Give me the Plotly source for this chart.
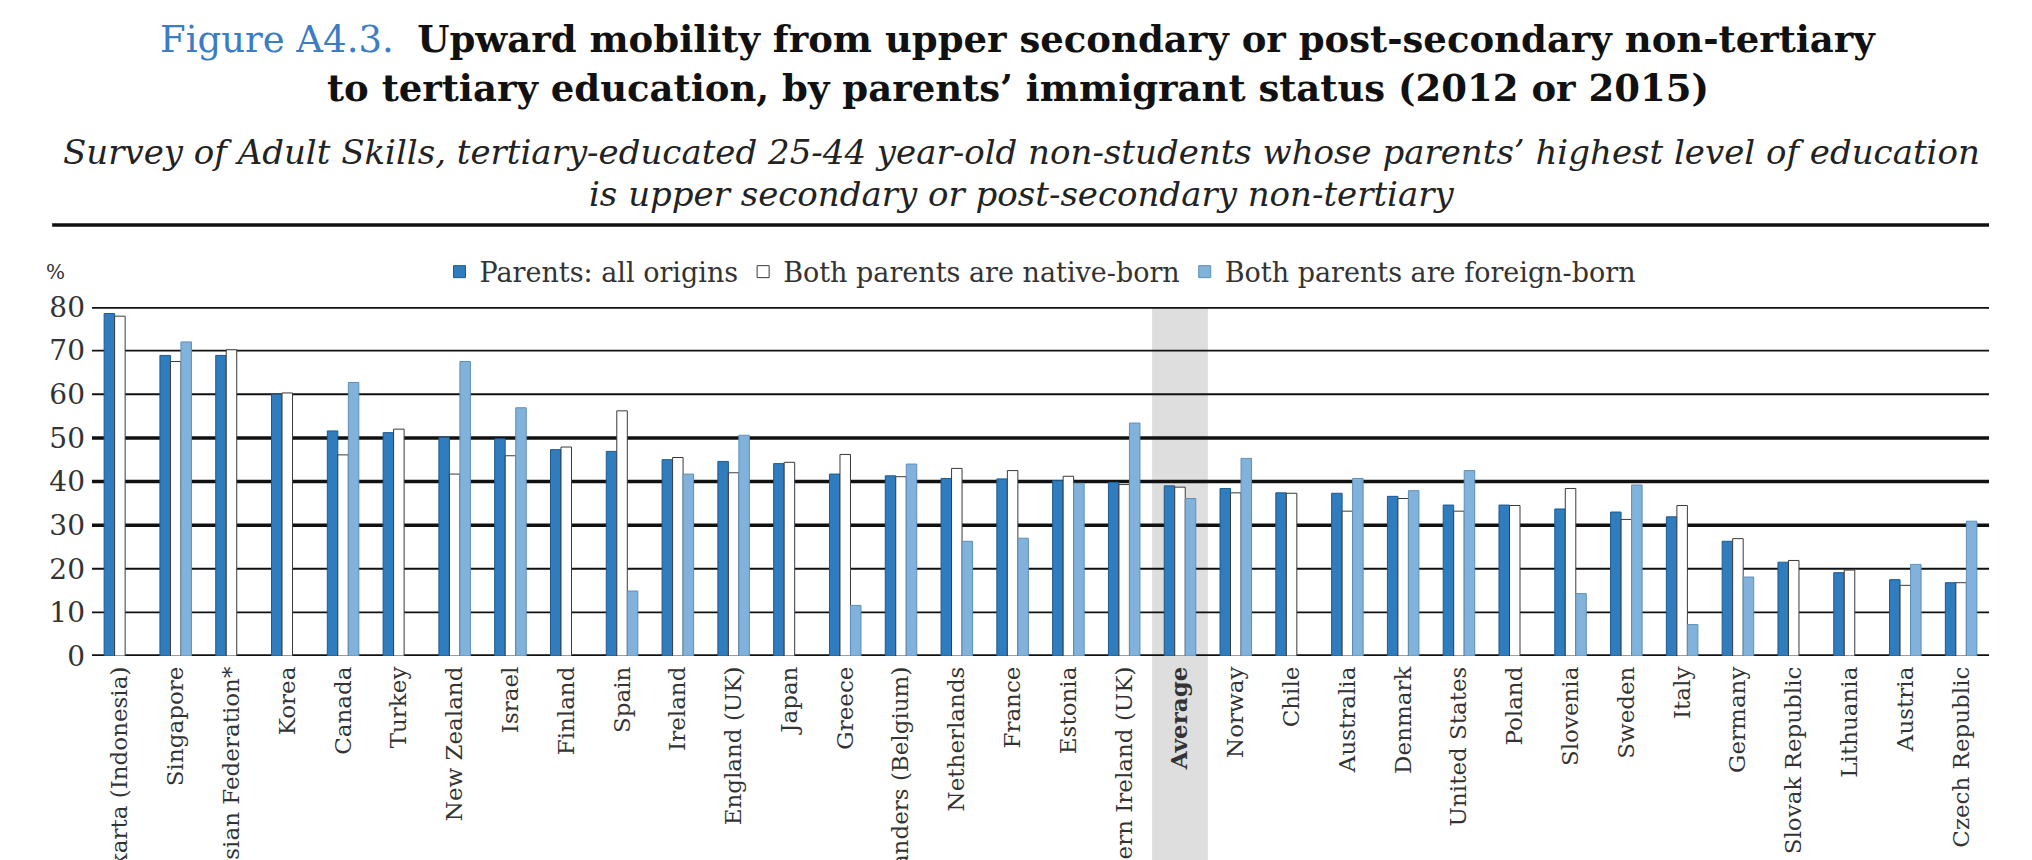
import plotly.graph_objects as go

categories = ["Jakarta (Indonesia)", "Singapore", "Russian Federation*", "Korea", "Canada", "Turkey",
              "New Zealand", "Israel", "Finland", "Spain", "Ireland", "England (UK)", "Japan", "Greece",
              "Flanders (Belgium)", "Netherlands", "France", "Estonia", "Northern Ireland (UK)", "Average",
              "Norway", "Chile", "Australia", "Denmark", "United States", "Poland", "Slovenia", "Sweden",
              "Italy", "Germany", "Slovak Republic", "Lithuania", "Austria", "Czech Republic"]

all_origins = [78.5, 68.9, 68.9, 60.0, 51.6, 51.2, 50.1, 49.8, 47.3, 46.9, 45.0, 44.6, 44.1, 41.7, 41.3,
               40.7, 40.6, 40.2, 39.8, 39.0, 38.4, 37.4, 37.3, 36.6, 34.6, 34.6, 33.7, 33.0, 31.9, 26.3,
               21.5, 19.1, 17.5, 16.8]
native_born = [77.9, 67.5, 70.2, 60.3, 46.1, 52.0, 41.7, 45.9, 47.9, 56.2, 45.5, 42.0, 44.4, 46.2, 41.1,
               43.0, 42.5, 41.2, 39.3, 38.7, 37.4, 37.3, 33.2, 36.1, 33.2, 34.5, 38.4, 31.3, 34.5, 26.9,
               21.9, 19.7, 16.2, 16.8]
foreign_born = [None, 72.0, None, None, 62.7, None, 67.5, 56.9, None, 14.9, 41.7, 50.6, None, 11.6, 44.0,
                26.3, 27.0, 39.6, 53.4, 36.1, 45.3, None, 40.7, 37.9, 42.5, None, 14.3, 39.2, 7.2, 18.1,
                None, None, 21.0, 30.9]

series_names = ["Parents: all origins", "Both parents are native-born", "Both parents are foreign-born"]
y_ticks = [0, 10, 20, 30, 40, 50, 60, 70, 80]
thick_grid = [0, 30, 40, 50, 80]

SERIF = "DejaVu Serif"
DARK = "#2f7cbf"
LIGHT = "#80b2db"

tick_text = ["<b>%s</b>" % c if c == "Average" else c for c in categories]

fig = go.Figure()
fig.add_trace(go.Bar(x=categories, y=all_origins, name=series_names[0],
                     marker=dict(color=DARK, line=dict(color="#1d5a8e", width=1))))
fig.add_trace(go.Bar(x=categories, y=native_born, name=series_names[1],
                     marker=dict(color="white", line=dict(color="#3a3a3a", width=1))))
fig.add_trace(go.Bar(x=categories, y=foreign_born, name=series_names[2],
                     marker=dict(color=LIGHT, line=dict(color="#5f8fb8", width=1))))

shapes = []
avg_i = categories.index("Average")
shapes.append(dict(type="rect", xref="x", yref="paper", x0=avg_i - 0.5, x1=avg_i + 0.5, y0=-0.7, y1=1.0,
                   fillcolor="#dedede", line=dict(width=0), layer="below"))
for v in y_ticks:
    w = 3.5 if v in thick_grid else 1.8
    shapes.append(dict(type="line", xref="paper", yref="y", x0=0, x1=1, y0=v, y1=v,
                       line=dict(color="#111111", width=w), layer="below"))
# separator under subtitle
shapes.append(dict(type="line", xref="paper", yref="paper", x0=-0.021, x1=1.0, y0=1.235, y1=1.235,
                   line=dict(color="#111111", width=3.5)))

annotations = [
    dict(text="<span style='color:#3b7cc4'>Figure A4.3.</span>  <b>Upward mobility from upper secondary or post-secondary non-tertiary</b>",
         xref="paper", yref="paper", x=0.488, y=1.768, showarrow=False, xanchor="center", yanchor="middle",
         font=dict(family=SERIF, size=37, color="#111111")),
    dict(text="<b>to tertiary education, by parents’ immigrant status (2012 or 2015)</b>",
         xref="paper", yref="paper", x=0.488, y=1.628, showarrow=False, xanchor="center", yanchor="middle",
         font=dict(family=SERIF, size=37, color="#111111")),
    dict(text="<i>Survey of Adult Skills, tertiary-educated 25-44 year-old non-students whose parents’ highest level of education</i>",
         xref="paper", yref="paper", x=0.49, y=1.444, showarrow=False, xanchor="center", yanchor="middle",
         font=dict(family=SERIF, size=34, color="#222222")),
    dict(text="<i>is upper secondary or post-secondary non-tertiary</i>",
         xref="paper", yref="paper", x=0.49, y=1.324, showarrow=False, xanchor="center", yanchor="middle",
         font=dict(family=SERIF, size=34, color="#222222")),
    dict(text="%", xref="paper", yref="paper", x=-0.019, y=1.10, showarrow=False, xanchor="center",
         yanchor="middle", font=dict(family=SERIF, size=20, color="#333333")),
]

fig.update_layout(
    width=2032, height=860,
    margin=dict(l=84, r=51, t=299, b=212, autoexpand=False),
    paper_bgcolor="white", plot_bgcolor="rgba(0,0,0,0)",
    barmode="group", bargap=0.435, bargroupgap=0,
    font=dict(family=SERIF, size=22, color="#333333"),
    legend=dict(orientation="h", x=0.5, xanchor="center", y=1.10, yanchor="middle",
                font=dict(family=SERIF, size=27, color="#333333"), itemwidth=30,
                bgcolor="rgba(0,0,0,0)", traceorder="normal"),
    shapes=shapes, annotations=annotations,
    xaxis=dict(type="category", range=[-0.5, len(categories) - 0.5], tickmode="array",
               tickvals=categories, ticktext=tick_text, tickangle=-90, showgrid=False,
               zeroline=False, showline=False, ticks="", automargin=False,
               ticklabelstandoff=5, tickfont=dict(family=SERIF, size=23, color="#333333")),
    yaxis=dict(range=[0, 80], tickvals=y_ticks, showgrid=False, zeroline=False, showline=False,
               ticks="", automargin=False, ticklabelstandoff=6,
               tickfont=dict(family=SERIF, size=28, color="#333333")),
)

fig.write_html("out.html")
